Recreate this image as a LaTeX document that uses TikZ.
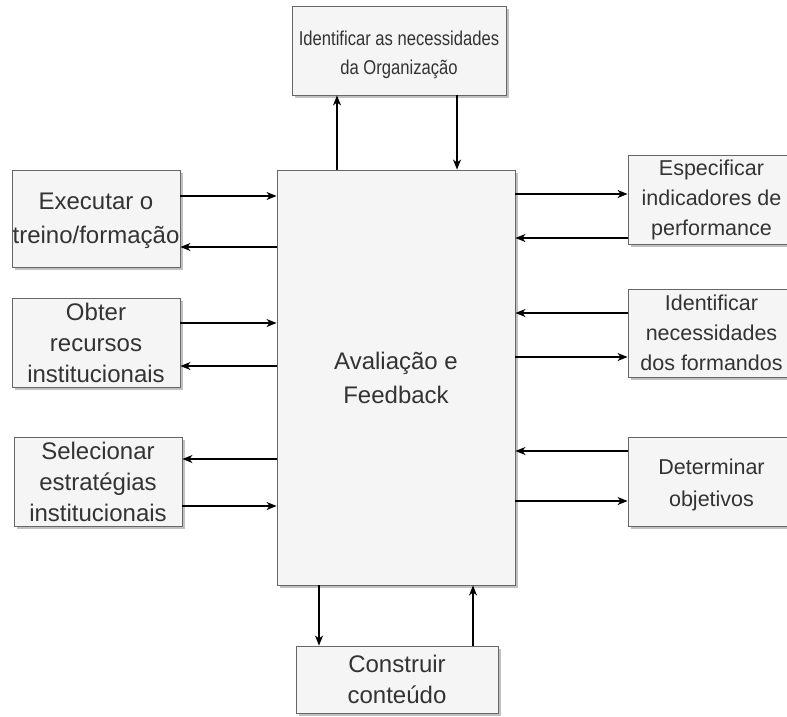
\documentclass[tikz,border=0pt]{standalone}
\usepackage{fontspec}
\setmainfont{Liberation Sans}
\newfontfamily\narrowf[FakeStretch=0.83]{Liberation Sans}
\usetikzlibrary{arrows.meta,shadows}
\definecolor{boxfill}{HTML}{F5F5F5}
\definecolor{boxline}{HTML}{666666}
\definecolor{txt}{HTML}{333333}
\tikzset{
  box/.style={draw=boxline, fill=boxfill, line width=0.9pt, rectangle, inner sep=0pt,
    align=center, text=txt, font={\fontsize{24}{31}\selectfont},
    drop shadow={shadow xshift=3pt, shadow yshift=-3pt, fill=black!30, opacity=0.8}},
  rbox/.style={box, font={\fontsize{21.5}{30}\selectfont}},
  arr/.style={draw=black, line width=1.3pt, -{Stealth[length=10pt,width=8pt,inset=3pt]}},
}
\begin{document}
\begin{tikzpicture}[x=1pt,y=-1pt]
\clip (0,0) rectangle (787,717);
\fill[white] (0,0) rectangle (787,717);
% nodes
\node[box, minimum width=214pt, minimum height=89pt, font={\narrowf\fontsize{20}{29}\selectfont}] (T) at (399,50.5) {\rule{0pt}{24pt}Identificar as necessidades\\da Organização};
\node[box, minimum width=238pt, minimum height=415pt] (M) at (396,377.5) {Avaliação e\\[3pt]Feedback};
\node[box, minimum width=168pt, minimum height=97pt, font={\fontsize{24}{34}\selectfont}] (E) at (96,218.5) {\rule{0pt}{22pt}Executar o\\treino/formação};
\node[box, minimum width=168pt, minimum height=89pt] (O) at (96,342.5) {Obter\\recursos\\institucionais};
\node[box, minimum width=168pt, minimum height=89pt] (S) at (98,481.5) {Selecionar\\estratégias\\institucionais};
\node[rbox, minimum width=167pt, minimum height=89pt] (Sp) at (711.5,199.5) {Especificar\\indicadores de\\performance};
\node[rbox, minimum width=167pt, minimum height=88pt] (I) at (711.5,333) {Identificar\\necessidades\\dos formandos};
\node[rbox, minimum width=167pt, minimum height=89pt, font={\fontsize{21.5}{32}\selectfont}] (D) at (711.5,481.5) {\rule{0pt}{22pt}Determinar\\objetivos};
\node[box, minimum width=202pt, minimum height=67pt] (C) at (397,679.5) {Construir\\conteúdo};
% connectors
\draw[arr] (M.north -| 337,0) -- (T.south -| 337,0);
\draw[arr] (T.south -| 457,0) -- (M.north -| 457,0);
\draw[arr] (E.east |- 0,196) -- (M.west |- 0,196);
\draw[arr] (M.west |- 0,247) -- (E.east |- 0,247);
\draw[arr] (O.east |- 0,323) -- (M.west |- 0,323);
\draw[arr] (M.west |- 0,366) -- (O.east |- 0,366);
\draw[arr] (M.west |- 0,459) -- (S.east |- 0,459);
\draw[arr] (S.east |- 0,506) -- (M.west |- 0,506);
\draw[arr] (M.east |- 0,194) -- (Sp.west |- 0,194);
\draw[arr] (Sp.west |- 0,238) -- (M.east |- 0,238);
\draw[arr] (I.west |- 0,313) -- (M.east |- 0,313);
\draw[arr] (M.east |- 0,357) -- (I.west |- 0,357);
\draw[arr] (D.west |- 0,451) -- (M.east |- 0,451);
\draw[arr] (M.east |- 0,501) -- (D.west |- 0,501);
\draw[arr] (M.south -| 319,0) -- (C.north -| 319,0);
\draw[arr] (C.north -| 473,0) -- (M.south -| 473,0);
\end{tikzpicture}
\end{document}
